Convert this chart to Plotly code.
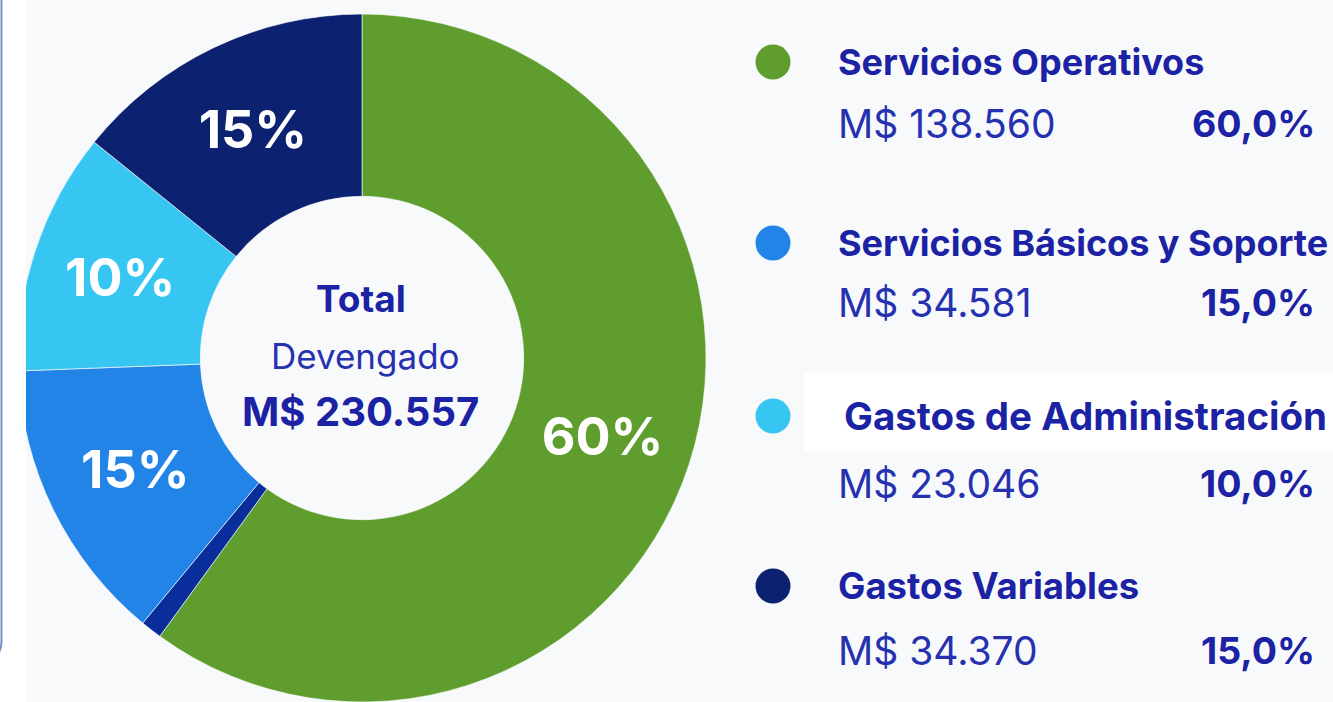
import plotly.graph_objects as go

# ---- data ----
categories = ["Servicios Operativos", "Servicios Básicos y Soporte",
              "Gastos de Administración", "Gastos Variables"]
amounts = [138560, 34581, 23046, 34370]            # M$
pct_labels = ["60,0%", "15,0%", "10,0%", "15,0%"]
colors = ["#5f9e2e", "#2384e8", "#37c6f2", "#0c2170"]

# visible donut segments (percent of circle, as drawn), incl. the thin dark sliver
seg_names = ["Servicios Operativos", "sliver", "Servicios Básicos y Soporte",
             "Gastos de Administración", "Gastos Variables"]
seg_values = [60, 1, 13.4, 11.4, 14.2]
seg_text = ["60%", "", "15%", "10%", "15%"]
seg_colors = ["#5f9e2e", "#0a2d9c", "#2384e8", "#37c6f2", "#0c2170"]

W, H = 1333, 702
BG = "#f8f9fb"
DARK = "#1b22a3"
MID = "#2631b0"
FONT = "Inter"


def px(x):
    return x / W


def py(y):
    return 1 - y / H


def fmt(v):
    return "M$ " + f"{v:,}".replace(",", ".")


fig = go.Figure()
fig.add_trace(go.Pie(
    labels=seg_names, values=seg_values, text=seg_text,
    textinfo="text", textposition="inside", insidetextorientation="horizontal",
    textfont=dict(family=FONT, size=52, color="white", weight="bold"),
    marker=dict(colors=seg_colors, line=dict(color="rgba(255,255,255,0.6)", width=1)),
    sort=False, direction="clockwise", rotation=0, hole=0.47,
    domain=dict(x=[px(18), px(706)], y=[0, py(14)]),
    showlegend=False, hoverinfo="skip",
))

shapes = []
# white strip on the left with the card border
shapes.append(dict(type="rect", xref="paper", yref="paper", x0=0, x1=px(26), y0=0, y1=1,
                   fillcolor="white", line=dict(width=0), layer="above"))
shapes.append(dict(type="path", xref="paper", yref="paper",
                   path=f"M {px(1.5)} 1 L {px(1.5)} {py(640)} Q {px(1.5)} {py(657)} {px(-10)} {py(657)}",
                   line=dict(color="#7d8cc4", width=2), layer="above"))
# white highlight box behind third legend title
shapes.append(dict(type="rect", xref="paper", yref="paper", x0=px(804), x1=1, y0=py(451), y1=py(373),
                   fillcolor="white", line=dict(width=0), layer="below"))

annotations = []
title_y = [62, 243, 416, 586]
value_y = [123, 302, 483, 650]
title_x = [836, 836, 842, 836]
title_size = [36, 36, 38.5, 36.5]
for i, cat in enumerate(categories):
    cy = title_y[i]
    r = 17.5
    shapes.append(dict(type="circle", xref="paper", yref="paper",
                       x0=px(773 - r), x1=px(773 + r), y0=py(cy + r), y1=py(cy - r),
                       fillcolor=colors[i], line=dict(width=0)))
    annotations.append(dict(x=px(title_x[i]), y=py(cy), xref="paper", yref="paper",
                            text=f"<b>{cat}</b>", showarrow=False, xanchor="left", yanchor="middle",
                            font=dict(family=FONT, size=title_size[i], color=DARK)))
    annotations.append(dict(x=px(836), y=py(value_y[i]), xref="paper", yref="paper",
                            text=fmt(amounts[i]), showarrow=False, xanchor="left", yanchor="middle",
                            font=dict(family=FONT, size=39, color=MID)))
    annotations.append(dict(x=px(1317), y=py(value_y[i]), xref="paper", yref="paper",
                            text=f"<b>{pct_labels[i]}</b>", showarrow=False, xanchor="right", yanchor="middle",
                            font=dict(family=FONT, size=37.5, color=DARK)))

# center text
annotations.append(dict(x=px(361), y=py(298), xref="paper", yref="paper", text="<b>Total</b>",
                        showarrow=False, xanchor="center", yanchor="middle",
                        font=dict(family=FONT, size=37, color=DARK)))
annotations.append(dict(x=px(366), y=py(356), xref="paper", yref="paper", text="Devengado",
                        showarrow=False, xanchor="center", yanchor="middle",
                        font=dict(family=FONT, size=35, color=MID)))
annotations.append(dict(x=px(360), y=py(412), xref="paper", yref="paper", text="<b>" + fmt(sum(amounts)) + "</b>",
                        showarrow=False, xanchor="center", yanchor="middle",
                        font=dict(family=FONT, size=40, color=DARK)))

fig.update_layout(width=W, height=H, margin=dict(l=0, r=0, t=0, b=0),
                  paper_bgcolor=BG, plot_bgcolor=BG,
                  shapes=shapes, annotations=annotations)
fig.write_html("out.html", config={"displayModeBar": False},
               post_script="document.body.style.margin='0';")
